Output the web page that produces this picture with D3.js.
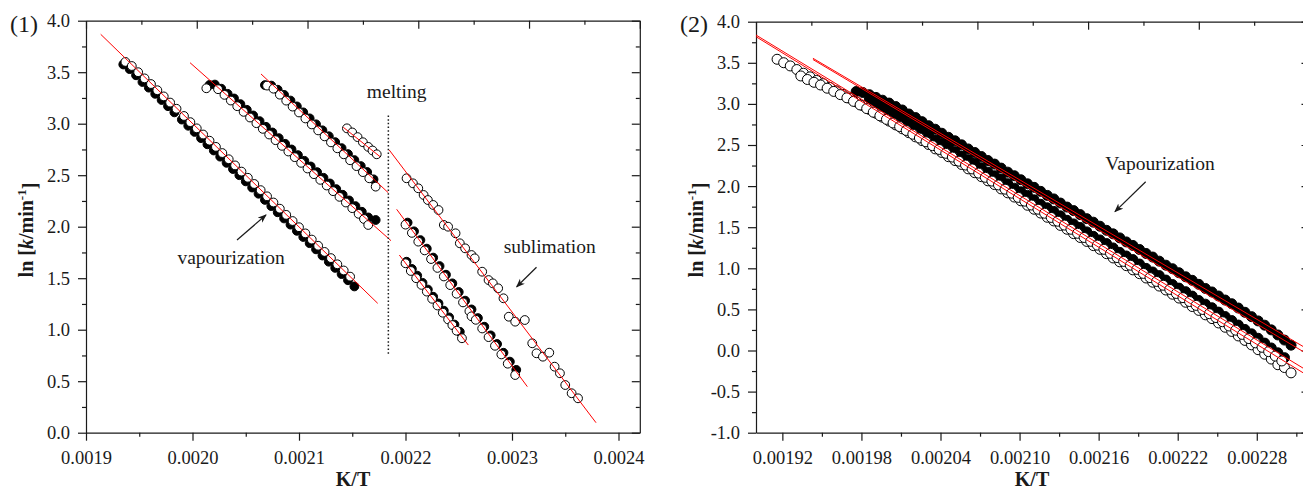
<!DOCTYPE html>
<html>
<head>
<meta charset="utf-8">
<script src="https://cdn.jsdelivr.net/npm/d3@7"></script>
<style>
  body { margin: 0; background: #fff; }
  svg { display: block; }
  text { font-family: "Liberation Serif", "Times New Roman", serif; fill: #1a1a1a; }
  .tick text { font-size: 18.5px; }
  .domain, .tick line { stroke: #1a1a1a; stroke-width: 1.2; }
</style>
</head>
<body>
<script>
// ---------------------------//
//   DATA  panel (1)          //
// ---------------------------//
var leftXTicks = [0.0019, 0.0020, 0.0021, 0.0022, 0.0023, 0.0024];
var leftXMinor = [0.00195, 0.00205, 0.00215, 0.00225, 0.00235];
var leftYTicks = [0, 0.5, 1, 1.5, 2, 2.5, 3, 3.5, 4];
var leftYMinor = [0.25, 0.75, 1.25, 1.75, 2.25, 2.75, 3.25, 3.75];

// vapourization, run A
var v1Open = [[0.001937,3.600],[0.001943,3.560],[0.001949,3.500],[0.001955,3.440],[0.001961,3.385],[0.001967,3.325],[0.001973,3.265],[0.001979,3.205],[0.001985,3.145],[0.001992,3.075],[0.001998,3.015],[0.002004,2.955],[0.002010,2.895],[0.002016,2.835],[0.002022,2.775],[0.002028,2.715],[0.002034,2.655],[0.002040,2.595],[0.002046,2.535],[0.002052,2.475],[0.002058,2.415],[0.002064,2.355],[0.002070,2.295],[0.002076,2.235],[0.002082,2.175],[0.002088,2.115],[0.002094,2.055],[0.002100,1.995],[0.002106,1.935],[0.002112,1.875],[0.002118,1.815],[0.002124,1.755],[0.002130,1.695],[0.002136,1.635],[0.002142,1.575],[0.002148,1.515]];
var v1Filled = [[0.001935,3.575],[0.001941,3.530],[0.001947,3.470],[0.001953,3.405],[0.001959,3.350],[0.001965,3.290],[0.001971,3.230],[0.001977,3.170],[0.001983,3.110],[0.001990,3.040],[0.001996,2.980],[0.002002,2.920],[0.002008,2.860],[0.002014,2.800],[0.002020,2.740],[0.002026,2.680],[0.002032,2.620],[0.002038,2.560],[0.002044,2.500],[0.002050,2.440],[0.002056,2.380],[0.002062,2.320],[0.002068,2.260],[0.002074,2.200],[0.002080,2.140],[0.002086,2.080],[0.002092,2.020],[0.002098,1.960],[0.002104,1.900],[0.002110,1.840],[0.002116,1.780],[0.002122,1.720],[0.002128,1.660],[0.002134,1.600],[0.002140,1.540],[0.002146,1.480],[0.002152,1.420]];

// vapourization, run B
var v2Open = [[0.002013,3.344],[0.002024,3.335],[0.002030,3.280],[0.002036,3.225],[0.002042,3.170],[0.002048,3.115],[0.002054,3.060],[0.002060,3.005],[0.002066,2.950],[0.002072,2.895],[0.002078,2.840],[0.002084,2.785],[0.002090,2.730],[0.002096,2.675],[0.002102,2.620],[0.002108,2.565],[0.002114,2.510],[0.002120,2.455],[0.002126,2.400],[0.002132,2.345],[0.002138,2.290],[0.002144,2.235],[0.002150,2.180],[0.002156,2.125],[0.002161,2.075],[0.002165,2.017]];
var v2Filled = [[0.002016,3.376],[0.002021,3.380],[0.002027,3.340],[0.002033,3.290],[0.002039,3.245],[0.002045,3.190],[0.002051,3.135],[0.002057,3.080],[0.002063,3.025],[0.002069,2.970],[0.002075,2.915],[0.002081,2.860],[0.002087,2.805],[0.002093,2.750],[0.002099,2.695],[0.002105,2.640],[0.002111,2.585],[0.002117,2.530],[0.002123,2.475],[0.002129,2.420],[0.002135,2.365],[0.002141,2.310],[0.002147,2.255],[0.002153,2.200],[0.002159,2.145],[0.002165,2.090],[0.002172,2.065]];

// vapourization, run C
var v3Open = [[0.002070,3.370],[0.002076,3.340],[0.002082,3.282],[0.002088,3.224],[0.002094,3.166],[0.002100,3.109],[0.002106,3.051],[0.002112,2.993],[0.002118,2.935],[0.002124,2.877],[0.002130,2.819],[0.002136,2.761],[0.002142,2.703],[0.002148,2.645],[0.002154,2.588],[0.002160,2.530],[0.002166,2.470],[0.002172,2.389]];
var v3Filled = [[0.002068,3.375],[0.002074,3.370],[0.002080,3.330],[0.002086,3.280],[0.002092,3.225],[0.002098,3.168],[0.002104,3.110],[0.002110,3.052],[0.002116,2.994],[0.002122,2.936],[0.002128,2.878],[0.002134,2.821],[0.002140,2.763],[0.002146,2.705],[0.002152,2.647],[0.002158,2.589],[0.002164,2.531],[0.002170,2.460]];
var v4Open = [[0.002145,2.955],[0.002150,2.915],[0.002155,2.870],[0.002160,2.820],[0.002165,2.775],[0.002169,2.740],[0.002173,2.703]];

// sublimation runs
var s1Open = [[0.002200,1.645],[0.002205,1.570],[0.002210,1.500],[0.002215,1.435],[0.002220,1.370],[0.002225,1.300],[0.002230,1.235],[0.002235,1.165],[0.002240,1.100],[0.002244,1.045],[0.002248,0.990],[0.002253,0.917]];
var s1Filled = [[0.002201,1.660],[0.002206,1.590],[0.002211,1.525],[0.002216,1.455],[0.002221,1.390],[0.002226,1.320],[0.002231,1.255],[0.002236,1.185],[0.002241,1.120],[0.002246,1.050],[0.002251,0.980]];
var s2Open = [[0.002200,2.020],[0.002206,1.940],[0.002212,1.855],[0.002218,1.770],[0.002224,1.686],[0.002230,1.600],[0.002236,1.517],[0.002242,1.433],[0.002248,1.349],[0.002254,1.265],[0.002260,1.180],[0.002262,1.130],[0.002266,1.096],[0.002272,1.012],[0.002278,0.928],[0.002284,0.844],[0.002290,0.760],[0.002296,0.670],[0.002303,0.560]];
var s2Filled = [[0.002202,2.040],[0.002208,1.955],[0.002214,1.870],[0.002220,1.787],[0.002226,1.700],[0.002232,1.618],[0.002238,1.534],[0.002244,1.450],[0.002250,1.366],[0.002256,1.282],[0.002262,1.197],[0.002268,1.113],[0.002274,1.029],[0.002280,0.945],[0.002286,0.861],[0.002292,0.776],[0.002298,0.690],[0.002304,0.610]];
var s3Open = [[0.002201,2.470],[0.002207,2.421],[0.002212,2.373],[0.002217,2.308],[0.002221,2.259],[0.002226,2.211],[0.002231,2.162],[0.002236,2.017],[0.002240,2.000],[0.002247,1.936],[0.002251,1.839],[0.002256,1.790],[0.002262,1.725],[0.002265,1.693],[0.002272,1.563],[0.002278,1.482],[0.002282,1.450],[0.002287,1.402],[0.002292,1.305],[0.002297,1.126],[0.002303,1.078],[0.002312,1.094],[0.002319,0.868],[0.002323,0.771],[0.002329,0.738],[0.002335,0.777],[0.002340,0.641],[0.002345,0.577],[0.002350,0.463],[0.002356,0.383],[0.002362,0.334]];

// linear fits [x1, y1, x2, y2]
var leftFits = [
  [0.0019138, 3.868, 0.0021739, 1.256],
  [0.0019977, 3.592, 0.0021864, 1.864],
  [0.0020643, 3.483, 0.0021838, 2.330],
  [0.0021416, 2.965, 0.0021761, 2.680],
  [0.0021942, 1.725, 0.0022590, 0.851],
  [0.0021917, 2.169, 0.0023144, 0.447],
  [0.0021847, 2.745, 0.0023789, 0.097]
];
var meltingLine = [0.0021839, 3.08, 0.0021839, 0.75];

// ---------------------------//
//   DATA  panel (2)          //
// ---------------------------//
var rightXTicks = [0.00192, 0.00198, 0.00204, 0.00210, 0.00216, 0.00222, 0.00228];
var rightXMinor = [0.00195, 0.00201, 0.00207, 0.00213, 0.00219, 0.00225, 0.00231];
var rightYTicks = [-1, -0.5, 0, 0.5, 1, 1.5, 2, 2.5, 3, 3.5, 4];
var rightYMinor = [-0.75, -0.25, 0.25, 0.75, 1.25, 1.75, 2.25, 2.75, 3.25, 3.75];

var r1Open = [[0.001916,3.543],[0.001921,3.501],[0.001926,3.462],[0.001931,3.418],[0.001936,3.373],[0.001941,3.329],[0.001946,3.285],[0.001951,3.246],[0.001956,3.201],[0.001961,3.159],[0.001966,3.116],[0.001971,3.071],[0.001976,3.025],[0.001981,2.980],[0.001986,2.933],[0.001991,2.886],[0.001996,2.838],[0.002001,2.791],[0.002006,2.744],[0.002011,2.697],[0.002016,2.650],[0.002021,2.599],[0.002026,2.553],[0.002031,2.506],[0.002036,2.453],[0.002041,2.409],[0.002046,2.358],[0.002051,2.311],[0.002056,2.263],[0.002061,2.210],[0.002066,2.163],[0.002071,2.115],[0.002076,2.064],[0.002081,2.019],[0.002086,1.966],[0.002091,1.918],[0.002096,1.867],[0.002101,1.821],[0.002106,1.767],[0.002111,1.719],[0.002116,1.672],[0.002121,1.621],[0.002126,1.576],[0.002131,1.522],[0.002136,1.475],[0.002141,1.422],[0.002146,1.375],[0.002151,1.327],[0.002156,1.276],[0.002161,1.231],[0.002166,1.178],[0.002171,1.126],[0.002176,1.079],[0.002181,1.032],[0.002186,0.981],[0.002191,0.935],[0.002196,0.882],[0.002201,0.831],[0.002206,0.784],[0.002211,0.736],[0.002216,0.685],[0.002221,0.638],[0.002226,0.587],[0.002231,0.535],[0.002236,0.488],[0.002241,0.434],[0.002246,0.388],[0.002251,0.335],[0.002256,0.283],[0.002261,0.232],[0.002266,0.177],[0.002271,0.123],[0.002276,0.069],[0.002281,0.010],[0.002286,-0.045],[0.002291,-0.104],[0.002296,-0.173],[0.002301,-0.207],[0.002306,-0.272]];
var r2Open = [[0.001934,3.340],[0.001939,3.297],[0.001944,3.263],[0.001949,3.230],[0.001954,3.191],[0.001959,3.152],[0.001964,3.113],[0.001969,3.074],[0.001974,3.031],[0.001979,2.987],[0.001984,2.943],[0.001989,2.899],[0.001994,2.855],[0.001999,2.812],[0.002004,2.768],[0.002009,2.724],[0.002014,2.677],[0.002019,2.631],[0.002024,2.585],[0.002029,2.539],[0.002034,2.492],[0.002039,2.446],[0.002044,2.399],[0.002049,2.353],[0.002054,2.303],[0.002059,2.256],[0.002064,2.209],[0.002069,2.158],[0.002074,2.107],[0.002079,2.061],[0.002084,2.014],[0.002089,1.963],[0.002094,1.914],[0.002099,1.863],[0.002104,1.817],[0.002109,1.770],[0.002114,1.719],[0.002119,1.670],[0.002124,1.619],[0.002129,1.573],[0.002134,1.526],[0.002139,1.475],[0.002144,1.426],[0.002149,1.375],[0.002154,1.328],[0.002159,1.282],[0.002164,1.231],[0.002169,1.182],[0.002174,1.131],[0.002179,1.084],[0.002184,1.038],[0.002189,0.987],[0.002194,0.938],[0.002199,0.887],[0.002204,0.840],[0.002209,0.794],[0.002214,0.743],[0.002219,0.694],[0.002224,0.643],[0.002229,0.596],[0.002234,0.549],[0.002239,0.499],[0.002244,0.448],[0.002249,0.401],[0.002254,0.350],[0.002259,0.298],[0.002264,0.247],[0.002269,0.196],[0.002274,0.145],[0.002279,0.093],[0.002284,0.039],[0.002289,-0.014],[0.002294,-0.068],[0.002299,-0.127]];
var r1Filled = [[0.001976,3.150],[0.001981,3.139],[0.001986,3.112],[0.001991,3.079],[0.001996,3.045],[0.002001,3.010],[0.002006,2.968],[0.002011,2.926],[0.002016,2.877],[0.002021,2.834],[0.002026,2.784],[0.002031,2.735],[0.002036,2.692],[0.002041,2.643],[0.002046,2.594],[0.002051,2.551],[0.002056,2.502],[0.002061,2.452],[0.002066,2.409],[0.002071,2.360],[0.002076,2.311],[0.002081,2.268],[0.002086,2.219],[0.002091,2.170],[0.002096,2.126],[0.002101,2.077],[0.002106,2.028],[0.002111,1.985],[0.002116,1.936],[0.002121,1.887],[0.002126,1.844],[0.002131,1.794],[0.002136,1.745],[0.002141,1.702],[0.002146,1.653],[0.002151,1.604],[0.002156,1.561],[0.002161,1.512],[0.002166,1.462],[0.002171,1.419],[0.002176,1.370],[0.002181,1.321],[0.002186,1.278],[0.002191,1.229],[0.002196,1.180],[0.002201,1.137],[0.002206,1.087],[0.002211,1.038],[0.002216,0.995],[0.002221,0.946],[0.002226,0.897],[0.002231,0.854],[0.002236,0.805],[0.002241,0.755],[0.002246,0.712],[0.002251,0.663],[0.002256,0.614],[0.002261,0.569],[0.002266,0.517],[0.002271,0.465],[0.002276,0.412],[0.002281,0.360],[0.002286,0.308],[0.002291,0.251],[0.002296,0.189],[0.002301,0.127],[0.002306,0.065]];
var r2Filled = [[0.001986,3.058],[0.001991,3.005],[0.001996,2.951],[0.002001,2.907],[0.002006,2.863],[0.002011,2.809],[0.002016,2.756],[0.002021,2.712],[0.002026,2.668],[0.002031,2.614],[0.002036,2.560],[0.002041,2.517],[0.002046,2.473],[0.002051,2.419],[0.002056,2.365],[0.002061,2.321],[0.002066,2.278],[0.002071,2.224],[0.002076,2.170],[0.002081,2.126],[0.002086,2.082],[0.002091,2.029],[0.002096,1.975],[0.002101,1.931],[0.002106,1.887],[0.002111,1.833],[0.002116,1.779],[0.002121,1.736],[0.002126,1.692],[0.002131,1.638],[0.002136,1.584],[0.002141,1.540],[0.002146,1.497],[0.002151,1.443],[0.002156,1.389],[0.002161,1.345],[0.002166,1.301],[0.002171,1.248],[0.002176,1.194],[0.002181,1.150],[0.002186,1.106],[0.002191,1.052],[0.002196,0.999],[0.002201,0.955],[0.002206,0.911],[0.002211,0.857],[0.002216,0.803],[0.002221,0.759],[0.002226,0.716],[0.002231,0.662],[0.002236,0.608],[0.002241,0.564],[0.002246,0.520],[0.002251,0.467],[0.002256,0.413],[0.002261,0.364],[0.002266,0.310],[0.002271,0.256],[0.002276,0.203],[0.002281,0.149],[0.002286,0.090],[0.002291,0.031],[0.002296,-0.028],[0.002301,-0.087]];

var rightFits = [
  [0.0019, 3.838, 0.00232, -0.262],
  [0.0019, 3.818, 0.00232, -0.319],
  [0.0019432, 3.555, 0.00232, 0.003],
  [0.0019432, 3.540, 0.00232, -0.059]
];

// annotations [text, x, y] and arrows [x1, y1, x2, y2]
var leftNotes = [["melting", 0.0021917, 3.25], ["vapourization", 0.0020362, 1.638], ["sublimation", 0.0023354, 1.745]];
var leftArrows = [[0.0020418, 1.871, 0.002069, 2.114], [0.002323, 1.606, 0.0023044, 1.417]];
var rightNotes = [["Vapourization", 0.0022066, 2.196]];
var rightArrows = [[0.0021957, 2.053, 0.0021724, 1.689]];

// ---------------------------//
//   SVG                      //
// ---------------------------//
var svg = d3.select("body").append("svg")
    .attr("width", 1303)
    .attr("height", 492);

svg.append("defs").append("marker")
    .attr("id", "head")
    .attr("markerUnits", "userSpaceOnUse")
    .attr("markerWidth", 10).attr("markerHeight", 8)
    .attr("refX", 8).attr("refY", 3.5)
    .attr("orient", "auto")
    .append("path")
    .attr("d", "M0,0 L9,3.5 L0,7 L2.5,3.5 Z")
    .attr("fill", "#1a1a1a");

var panels = [
  { left: 86, right: 639.8, top: 20.7, bottom: 432.7,
    xDomain: [0.0019, 0.00242], yDomain: [0, 4], digits: 4,
    xTicks: leftXTicks, xMinor: leftXMinor, yTicks: leftYTicks, yMinor: leftYMinor,
    filled: [v1Filled, v2Filled, v3Filled, s1Filled, s2Filled],
    open: [v1Open, v2Open, v3Open, v4Open, s1Open, s2Open, s3Open],
    fits: leftFits, r: 4.4, notes: leftNotes, arrows: leftArrows,
    tag: "(1)", tagX: 10, yTitleX: 33, xTitleX: 353 },
  { left: 756, right: 1309.5, top: 21.7, bottom: 432.7,
    xDomain: [0.0019, 0.00232], yDomain: [-1, 4], digits: 5,
    xTicks: rightXTicks, xMinor: rightXMinor, yTicks: rightYTicks, yMinor: rightYMinor,
    filled: [r1Filled, r2Filled],
    open: [r1Open, r2Open],
    fits: rightFits, r: 5, notes: rightNotes, arrows: rightArrows,
    tag: "(2)", tagX: 680, yTitleX: 703, xTitleX: 1032 }
];

panels.forEach(function(p, i) {
    var x = d3.scaleLinear().domain(p.xDomain).range([p.left, p.right]);
    var y = d3.scaleLinear().domain(p.yDomain).range([p.bottom, p.top]);
    var top = d3.scaleLinear().domain([0, 10]).range([p.left, p.right]);
    var g = svg.append("g");

    // ---- axes ----
    g.append("g").attr("transform", "translate(0," + p.bottom + ")")
        .call(d3.axisBottom(x).tickValues(p.xTicks).tickSize(8).tickSizeOuter(0).tickPadding(10)
            .tickFormat(function(d) { return d.toFixed(p.digits); }));
    g.append("g").attr("transform", "translate(0," + p.bottom + ")")
        .call(d3.axisBottom(x).tickValues(p.xMinor).tickSize(4).tickFormat(""))
        .select(".domain").remove();

    g.append("g").attr("transform", "translate(" + p.left + ",0)")
        .call(d3.axisLeft(y).tickValues(p.yTicks).tickSize(8).tickSizeOuter(0).tickPadding(8)
            .tickFormat(function(d) { return d.toFixed(1); }));
    g.append("g").attr("transform", "translate(" + p.left + ",0)")
        .call(d3.axisLeft(y).tickValues(p.yMinor).tickSize(4).tickFormat(""))
        .select(".domain").remove();

    // top and right mirror axes, ticks inward
    g.append("g").attr("transform", "translate(0," + p.top + ")")
        .call(d3.axisTop(top).tickValues([0, 2, 4, 6, 8, 10]).tickSize(-8).tickSizeOuter(0).tickFormat(""));
    g.append("g").attr("transform", "translate(0," + p.top + ")")
        .call(d3.axisTop(top).tickValues([1, 3, 5, 7, 9]).tickSize(-4).tickFormat(""))
        .select(".domain").remove();
    g.append("g").attr("transform", "translate(" + p.right + ",0)")
        .call(d3.axisRight(y).tickValues(p.yTicks).tickSize(-8).tickSizeOuter(0).tickFormat(""));
    g.append("g").attr("transform", "translate(" + p.right + ",0)")
        .call(d3.axisRight(y).tickValues(p.yMinor).tickSize(-4).tickFormat(""))
        .select(".domain").remove();

    // ---- markers: filled runs under open runs ----
    p.filled.forEach(function(s) {
        g.append("g").selectAll("circle")
            .data(s).enter().append("circle")
            .attr("cx", function(d) { return x(d[0]); })
            .attr("cy", function(d) { return y(d[1]); })
            .attr("r", p.r)
            .attr("fill", "#000").attr("stroke", "#000").attr("stroke-width", 1);
    });
    p.open.forEach(function(s) {
        g.append("g").selectAll("circle")
            .data(s).enter().append("circle")
            .attr("cx", function(d) { return x(d[0]); })
            .attr("cy", function(d) { return y(d[1]); })
            .attr("r", p.r)
            .attr("fill", "#fff").attr("stroke", "#000").attr("stroke-width", 1);
    });

    // ---- fits ----
    g.append("g").selectAll("line")
        .data(p.fits).enter().append("line")
        .attr("x1", function(d) { return x(d[0]); })
        .attr("y1", function(d) { return y(d[1]); })
        .attr("x2", function(d) { return x(d[2]); })
        .attr("y2", function(d) { return y(d[3]); })
        .attr("stroke", "#ff0000").attr("stroke-width", 1);

    if (i === 0) {
        g.append("line")
            .attr("x1", x(meltingLine[0])).attr("y1", y(meltingLine[1]))
            .attr("x2", x(meltingLine[2])).attr("y2", y(meltingLine[3]))
            .attr("stroke", "#1a1a1a").attr("stroke-width", 1.5)
            .attr("stroke-dasharray", "1.5,2.2");
    }

    // ---- annotations ----
    g.selectAll(".note").data(p.notes).enter().append("text")
        .attr("x", function(d) { return x(d[1]); })
        .attr("y", function(d) { return y(d[2]); })
        .attr("text-anchor", "middle")
        .style("font-size", "19.5px")
        .text(function(d) { return d[0]; });
    g.selectAll(".arrow").data(p.arrows).enter().append("line")
        .attr("x1", function(d) { return x(d[0]); })
        .attr("y1", function(d) { return y(d[1]); })
        .attr("x2", function(d) { return x(d[2]); })
        .attr("y2", function(d) { return y(d[3]); })
        .attr("stroke", "#1a1a1a").attr("stroke-width", 1.2)
        .attr("marker-end", "url(#head)");

    // ---- titles ----
    g.append("text").attr("x", p.tagX).attr("y", 32)
        .style("font-size", "24px").text(p.tag);

    g.append("text").attr("x", p.xTitleX).attr("y", 486)
        .attr("text-anchor", "middle")
        .style("font-size", "20px").style("font-weight", "bold")
        .text("K/T");

    var yt = g.append("text")
        .attr("transform", "translate(" + p.yTitleX + ",230) rotate(-90)")
        .attr("text-anchor", "middle")
        .style("font-size", "20px").style("font-weight", "bold");
    yt.append("tspan").text("ln [");
    yt.append("tspan").style("font-style", "italic").text("k");
    yt.append("tspan").text("/min");
    yt.append("tspan").attr("dy", "-0.55em").style("font-size", "13px").text("-1");
    yt.append("tspan").attr("dy", "0.55em").text("]");
});
</script>
</body>
</html>
